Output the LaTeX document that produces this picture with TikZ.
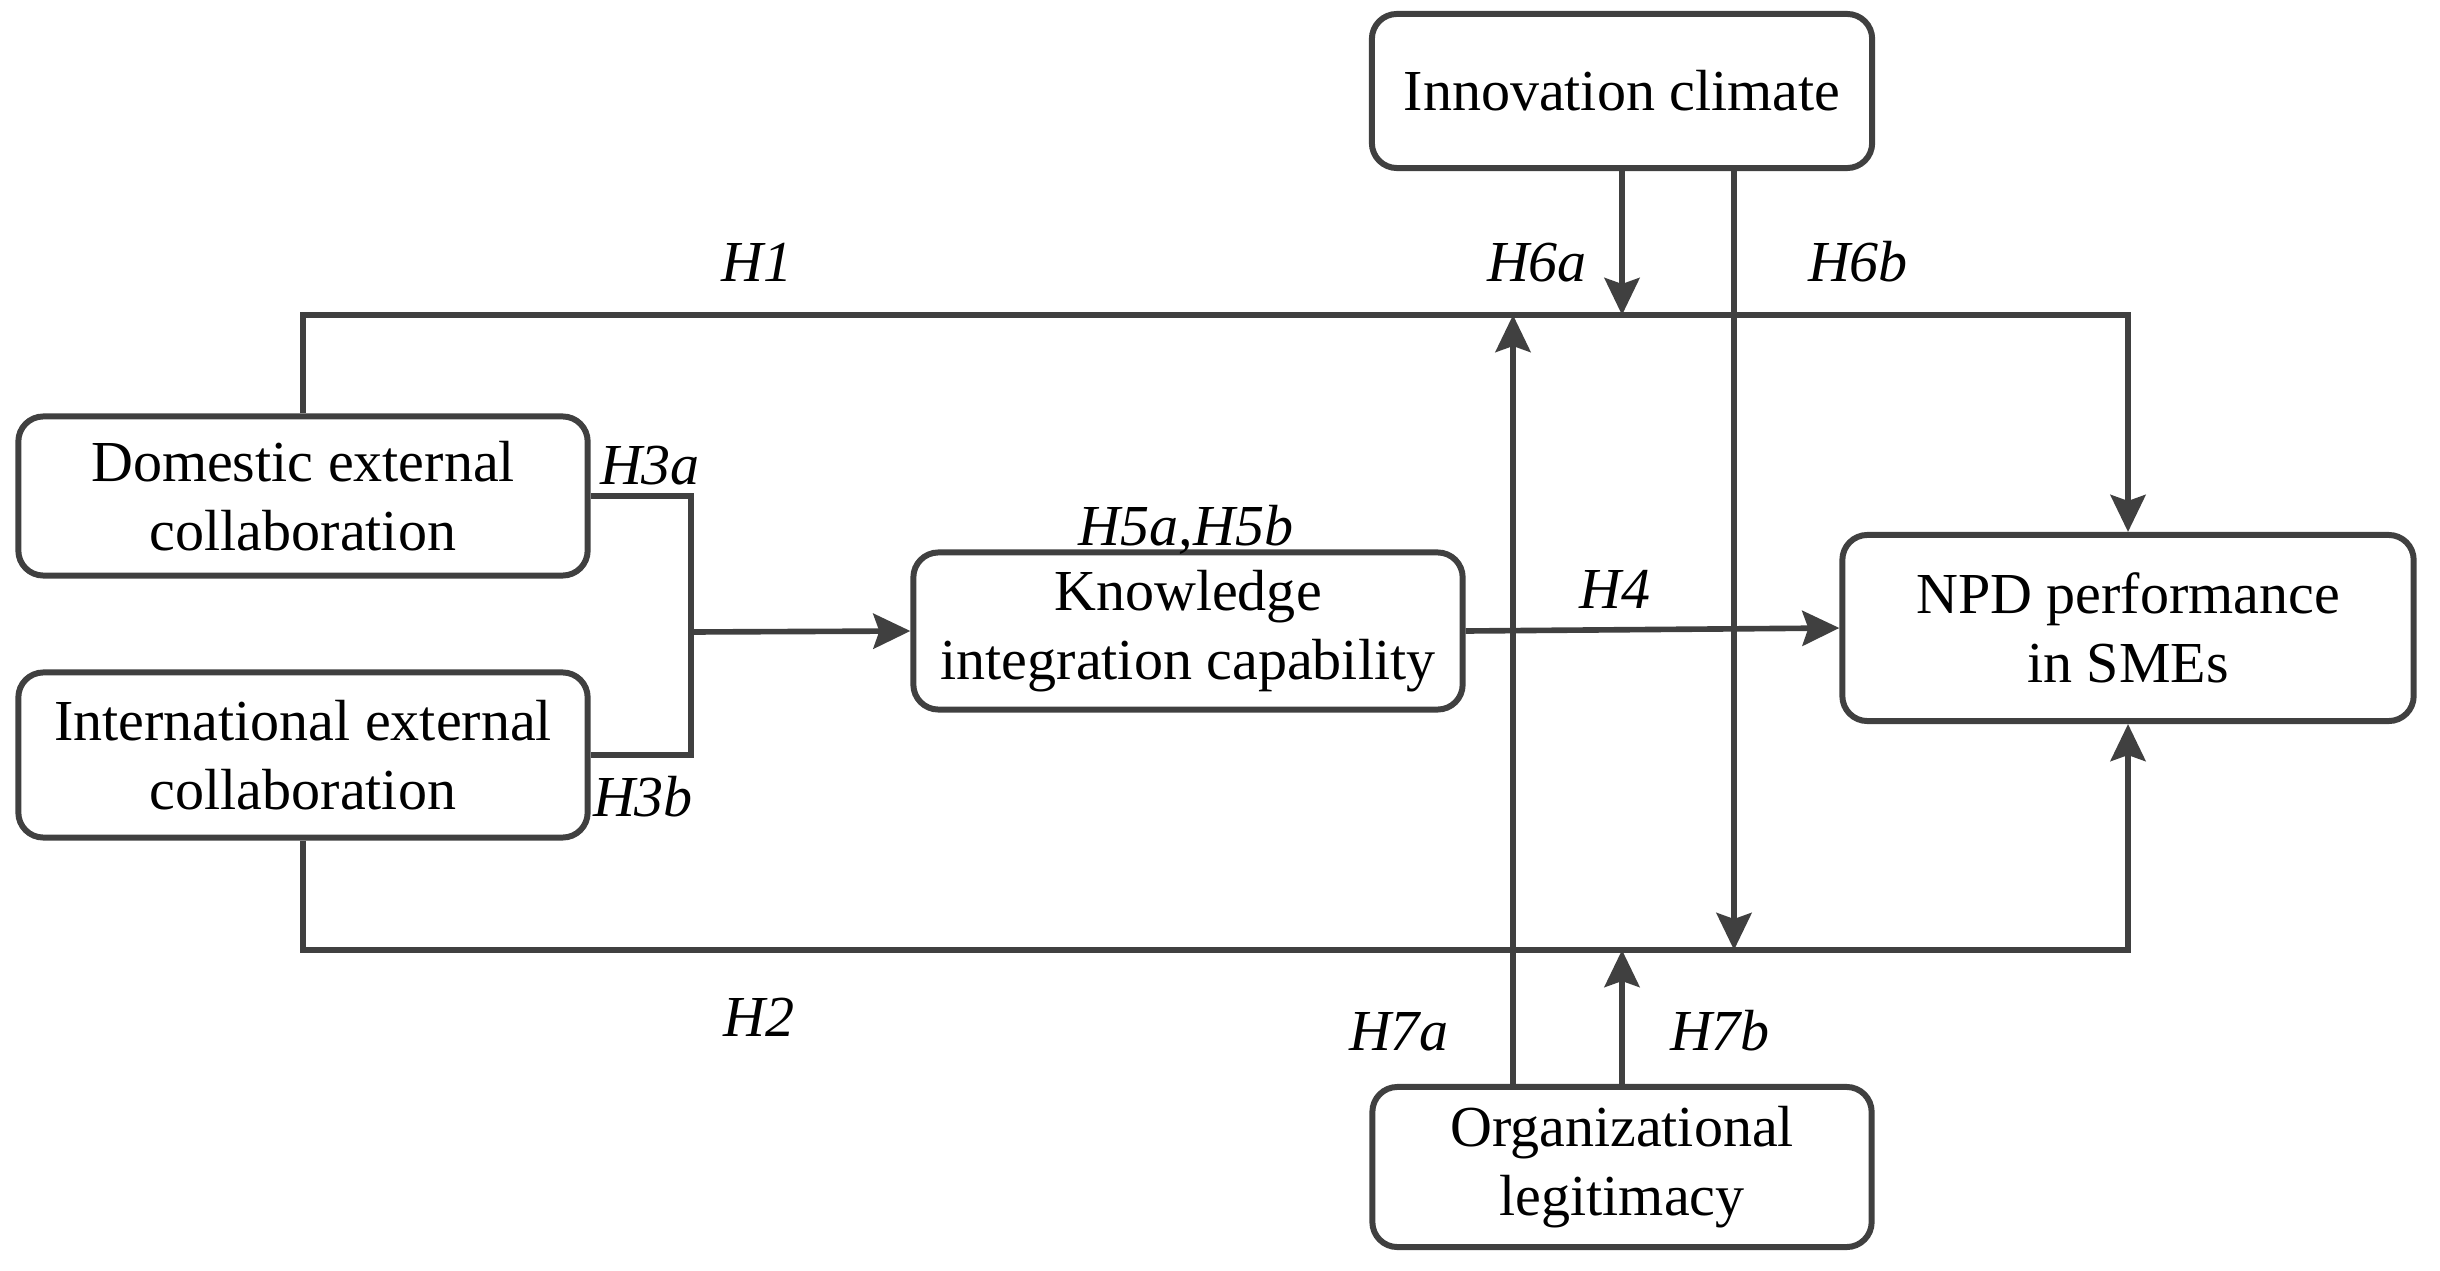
\documentclass[tikz,border=0pt]{standalone}
\usepackage{fontspec}
\setmainfont{Liberation Serif}
\usetikzlibrary{arrows.meta}
\definecolor{lc}{HTML}{404040}
\begin{document}
\begin{tikzpicture}[x=0.01cm,y=-0.01cm,
  box/.style={draw=lc,line width=1.7pt,rounded corners=0.25cm,align=center,inner sep=0pt,
    font=\fontsize{16.5}{19.8}\selectfont},
  conn/.style={draw=lc,line width=1.6pt},
  arr/.style={conn,-{Stealth[length=0.37cm,width=0.35cm,inset=0.06cm]}},
  lab/.style={font=\fontsize{16.5}{19.8}\selectfont\itshape,anchor=base,inner sep=0pt}]
\useasboundingbox (0,0) rectangle (2440,1270);
% boxes
\node[box,minimum width=5.00cm,minimum height=1.54cm] (inno) at (1622,91) {Innovation climate};
\node[box,minimum width=5.69cm,minimum height=1.59cm] (dom) at (303,496) {Domestic external\\collaboration};
\node[box,minimum width=5.69cm,minimum height=1.65cm] (intl) at (303,755) {International external\\collaboration};
\node[box,minimum width=5.49cm,minimum height=1.57cm] (know) at (1188,631) {Knowledge\\integration capability};
\node[box,minimum width=5.71cm,minimum height=1.86cm] (npd) at (2128,628) {NPD performance\\in SMEs};
\node[box,minimum width=4.99cm,minimum height=1.60cm] (org) at (1622,1167) {Organizational\\legitimacy};
% helper coordinates
\coordinate (t2) at (2128,315);
\coordinate (b2) at (2128,950);
\coordinate (j) at (691,632);
\coordinate (m1) at (1622,315);
\coordinate (m2) at (1734,950);
\coordinate (m3) at (1513,315);
\coordinate (m4) at (1622,950);
% connectors
\draw[arr] (dom.north) |- (t2) -- (npd.north);
\draw[arr] (intl.south) |- (b2) -- (npd.south);
\draw[conn] (dom.east) -| (j) |- (intl.east);
\draw[arr] (j) -- (know.west);
\draw[arr] (know.east) -- (npd.west);
\draw[arr] (inno.south) -- (m1);
\draw[arr] (inno.south -| m2) -- (m2);
\draw[arr] (org.north -| m3) -- (m3);
\draw[arr] (org.north) -- (m4);
% labels
\node[lab] (lh1) at (757,282) {H1};
\node[lab] (lh6a) at (1537,282) {H6a};
\node[lab] (lh6b) at (1858,282) {H6b};
\node[lab] (lh3a) at (650,484) {H3a};
\node[lab] (lh3b) at (643,816) {H3b};
\node[lab] (lh5) at (1186,545) {H5a,H5b};
\node[lab] (lh4) at (1615,608) {H4};
\node[lab] (lh2) at (759,1036) {H2};
\node[lab] (lh7a) at (1399,1050) {H7a};
\node[lab] (lh7b) at (1720,1050) {H7b};
\end{tikzpicture}
\end{document}
